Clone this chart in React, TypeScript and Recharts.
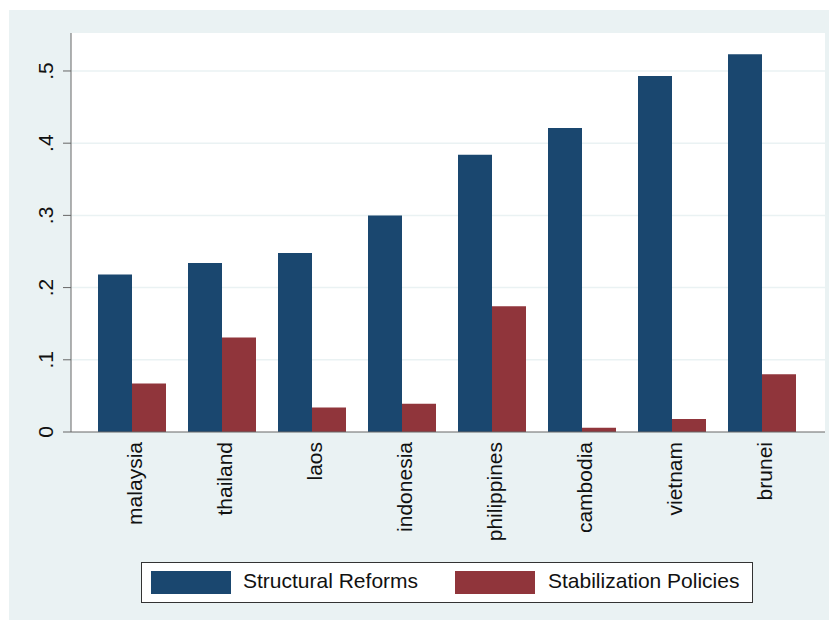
import React from "react";
import { BarChart, Bar, XAxis, YAxis, CartesianGrid } from "recharts";

const countries = ["malaysia", "thailand", "laos", "indonesia", "philippines", "cambodia", "vietnam", "brunei"];
const structuralReforms = [0.218, 0.234, 0.248, 0.3, 0.384, 0.421, 0.493, 0.523];
const stabilizationPolicies = [0.067, 0.131, 0.034, 0.039, 0.174, 0.006, 0.018, 0.08];
const yTicks = [0, 0.1, 0.2, 0.3, 0.4, 0.5];
const yTickLabels = ["0", ".1", ".2", ".3", ".4", ".5"];

const BLUE = "#1a476f";
const RED = "#90353b";
const BG = "#eaf2f3";
const FONT = "'Liberation Sans', Arial, sans-serif";
const FS = 21;

const data = countries.map((name, i) => ({
    name,
    structural: structuralReforms[i],
    stabilization: stabilizationPolicies[i],
}));

// rotated y labels, reading bottom to top like stata
const YTick = ({ y, payload }: any) => {
    const idx = yTicks.indexOf(payload.value);
    const label = idx >= 0 ? yTickLabels[idx] : String(payload.value);
    return (
        <text
            x={53}
            y={y}
            transform={`rotate(-90, 53, ${y})`}
            textAnchor="middle"
            fontSize={FS}
            fontFamily={FONT}
            fill="#111"
        >
            {label}
        </text>
    );
};

const XTick = ({ x, payload }: any) => (
    <text
        x={x + 10}
        y={442}
        transform={`rotate(-90, ${x + 10}, 442)`}
        textAnchor="end"
        fontSize={FS}
        fontFamily={FONT}
        fill="#111"
    >
        {payload.value}
    </text>
);

export default function App() {
    return (
        <div style={{ position: "absolute", left: 0, top: 0, width: 831, height: 622, background: "#fff" }}>
            <div style={{ position: "absolute", left: 9, top: 10, width: 820, height: 610, background: BG }} />
            <div style={{ position: "absolute", left: 0, top: 0 }}>
                <BarChart
                    width={831}
                    height={622}
                    data={data}
                    margin={{ top: 33, right: 6, left: 0, bottom: 0 }}
                    barGap={0}
                >
                    <CartesianGrid
                        vertical={false}
                        stroke={BG}
                        strokeWidth={1.5}
                        fill="#fff"
                        horizontalValues={yTicks.filter((t) => t > 0)}
                    />
                    <XAxis
                        dataKey="name"
                        interval={0}
                        height={190}
                        padding={{ left: 16, right: 18 }}
                        tickLine={false}
                        axisLine={{ stroke: "#666", strokeWidth: 1 }}
                        tick={<XTick />}
                    />
                    <YAxis
                        width={71}
                        domain={[0, 0.5526]}
                        ticks={yTicks}
                        tickSize={8}
                        tickLine={{ stroke: "#666" }}
                        axisLine={{ stroke: "#666", strokeWidth: 1 }}
                        tick={<YTick />}
                    />
                    <Bar dataKey="structural" fill={BLUE} barSize={34} isAnimationActive={false} />
                    <Bar dataKey="stabilization" fill={RED} barSize={34} isAnimationActive={false} />
                </BarChart>
            </div>
            <div
                style={{
                    position: "absolute",
                    left: 141,
                    top: 562,
                    width: 610,
                    height: 39,
                    background: "#fff",
                    border: "1px solid #333",
                    fontFamily: FONT,
                    fontSize: FS,
                    color: "#111",
                }}
            >
                <div style={{ position: "absolute", left: 9, top: 8, width: 80, height: 23, background: BLUE }} />
                <div style={{ position: "absolute", left: 101, top: 6, whiteSpace: "nowrap" }}>Structural Reforms</div>
                <div style={{ position: "absolute", left: 313, top: 8, width: 80, height: 23, background: RED }} />
                <div style={{ position: "absolute", left: 406, top: 6, whiteSpace: "nowrap" }}>Stabilization Policies</div>
            </div>
        </div>
    );
}
